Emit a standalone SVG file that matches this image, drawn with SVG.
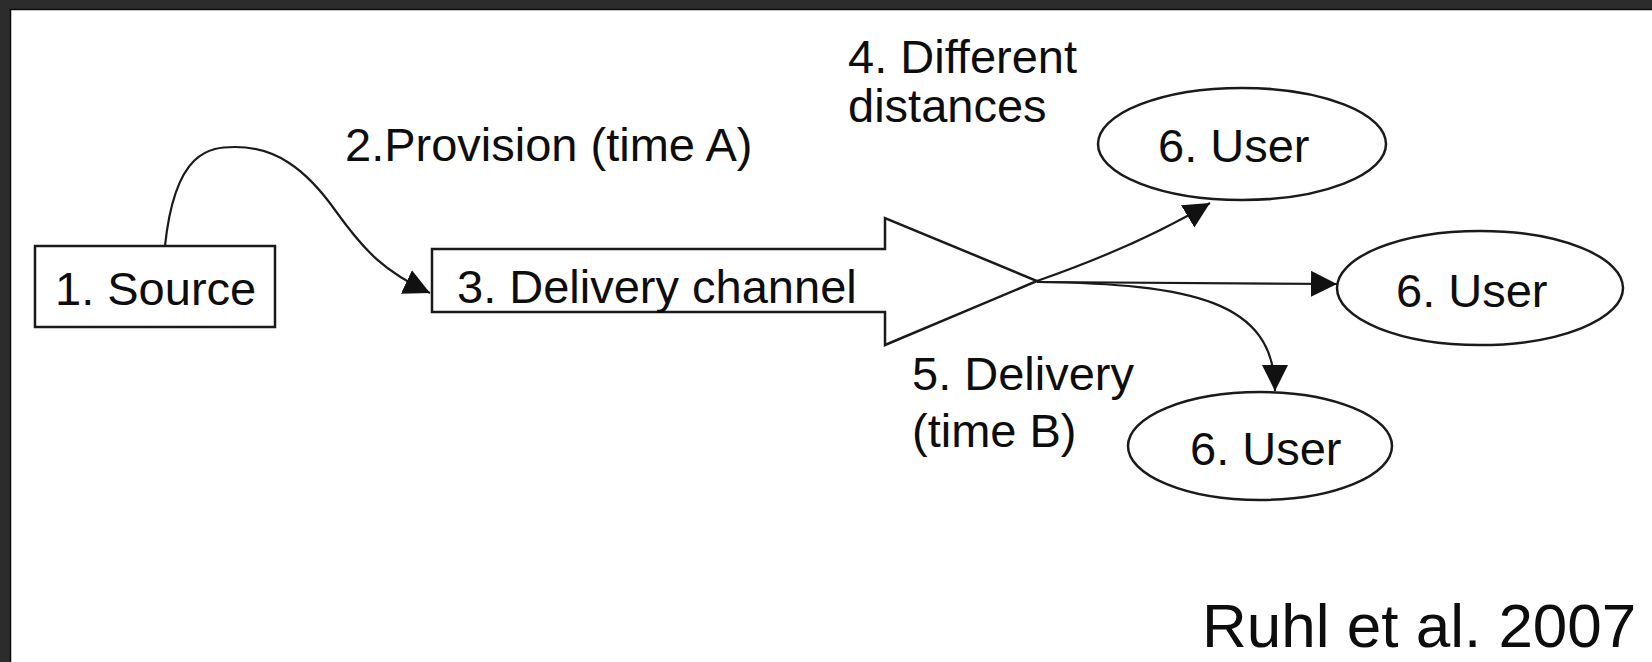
<svg xmlns="http://www.w3.org/2000/svg" width="1652" height="662" viewBox="0 0 1652 662">
  <style>
    .t { font-family: "Liberation Sans", Arial, sans-serif; font-size: 47px; fill: #0d0d0d; }
    .shape { fill: #ffffff; stroke: #1a1a1a; stroke-width: 2.5; }
    .conn { fill: none; stroke: #1a1a1a; stroke-width: 2.2; marker-end: url(#ah); }
  </style>
  <defs>
    <marker id="ah" markerUnits="userSpaceOnUse" markerWidth="28" markerHeight="28" refX="26" refY="13" orient="auto">
      <path d="M0,0 L26,13 L0,26 z" fill="#111"/>
    </marker>
  </defs>

  <g id="frame">
    <rect x="0" y="0" width="1652" height="662" fill="#2c2c2c"/>
    <rect x="11" y="10" width="1641" height="652" fill="#ffffff"/>
    <path d="M10.5,662 L10.5,9.5 L1652,9.5" fill="none" stroke="#0c0c0c" stroke-width="1.5"/>
  </g>

  <g id="connectors">
    <path class="conn" d="M165,246 C175,150 210,147 235,147 C275,147 305,168 335,210 C365,252 385,272 430,293"/>
    <path class="conn" d="M1037,281 Q1140,245 1210,203"/>
    <path class="conn" d="M1037,282 L1337,284"/>
    <path class="conn" d="M1037,282 C1190,284 1275,300 1275,391"/>
  </g>

  <g id="source">
    <rect class="shape" x="35" y="246" width="240" height="81"/>
    <text class="t" x="55" y="305">1. Source</text>
  </g>

  <g id="provision-label">
    <text class="t" x="345" y="161">2.Provision (time A)</text>
  </g>

  <g id="channel">
    <polygon class="shape" points="432,249 885,249 885,218 1037,281 885,345 885,312 432,312"/>
    <text class="t" x="457" y="303">3. Delivery channel</text>
  </g>

  <g id="distances-label">
    <text class="t" x="848" y="73">4. Different</text>
    <text class="t" x="848" y="122">distances</text>
  </g>

  <g id="delivery-label">
    <text class="t" x="912" y="390">5. Delivery</text>
    <text class="t" x="912" y="447">(time B)</text>
  </g>

  <g id="user-top">
    <ellipse class="shape" cx="1242" cy="144" rx="144" ry="56"/>
    <text class="t" x="1158" y="162">6. User</text>
  </g>

  <g id="user-middle">
    <ellipse class="shape" cx="1480" cy="288" rx="143" ry="57"/>
    <text class="t" x="1396" y="307">6. User</text>
  </g>

  <g id="user-bottom">
    <ellipse class="shape" cx="1260" cy="446" rx="132" ry="54"/>
    <text class="t" x="1190" y="465">6. User</text>
  </g>

  <g id="citation">
    <text class="t" x="1202" y="647" style="font-size:62px">Ruhl et al. 2007</text>
  </g>
</svg>
